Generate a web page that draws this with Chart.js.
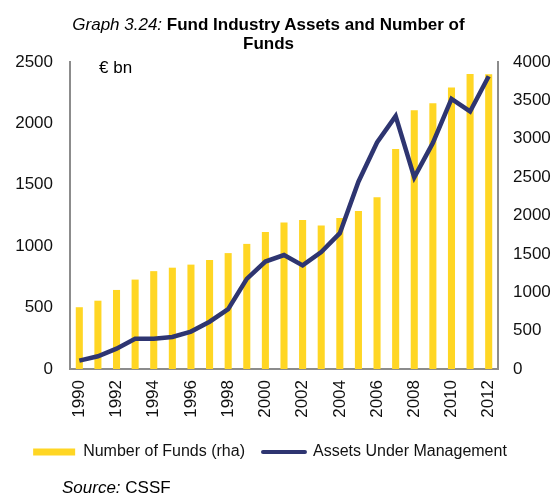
<!DOCTYPE html>
<html>
<head>
<meta charset="utf-8">
<script src="https://cdn.jsdelivr.net/npm/chart.js@4"></script>
<style>
    html, body { margin: 0; padding: 0; background: #fff; }
    #wrap { position: relative; width: 554px; height: 498px; font-family: "Liberation Sans", Arial, sans-serif; color: #000; }
    #chart { position: absolute; left: 0; top: 0; }
    .title { position: absolute; left: 0; top: 15px; width: 537px; text-align: center; font-size: 17px; line-height: 19px; font-weight: bold; }
    .title i { font-weight: normal; }
    .unit { position: absolute; left: 99px; top: 58px; font-size: 17px; }
    .source { position: absolute; left: 62px; top: 478px; font-size: 17px; }
</style>
</head>
<body>
<div id="wrap">
    <canvas id="chart" width="554" height="498"></canvas>
    <div class="title"><i>Graph 3.24:</i> Fund Industry Assets and Number of<br>Funds</div>
    <div class="unit">€ bn</div>
    <div class="source"><i>Source:</i> CSSF</div>
</div>
<script>
const years = ['1990', '1991', '1992', '1993', '1994', '1995', '1996', '1997', '1998', '1999', '2000',
    '2001', '2002', '2003', '2004', '2005', '2006', '2007', '2008', '2009', '2010', '2011', '2012'];
const numberOfFunds = [805, 890, 1030, 1165, 1275, 1320, 1360, 1420, 1510, 1630, 1785,
    1908, 1941, 1870, 1968, 2060, 2238, 2868, 3371, 3463, 3667, 3845, 3841];
const assetsUnderManagement = [68, 104, 166, 247, 247, 261, 305, 385, 487, 734, 875,
    928, 844, 953, 1106, 1525, 1845, 2059, 1560, 1841, 2199, 2097, 2384];
const leftTicks = { max: 2500, step: 500 };
const rightTicks = { max: 4000, step: 500 };

const YELLOW = '#FFD624';
const NAVY = '#2E3571';
const AXIS = '#8c8c8c';
const FONT = { family: '"Liberation Sans", Arial, sans-serif', size: 17 };

// nudge the legend a bit left, like the original
const legendShift = {
    id: 'legendShift',
    afterLayout(chart) {
        if (chart.legend) {
            chart.legend.left -= 7;
            chart.legend.right -= 7;
        }
    },
};

new Chart(document.getElementById('chart'), {
    data: {
        labels: years,
        datasets: [
            {
                type: 'bar',
                label: 'Number of Funds (rha)',
                data: numberOfFunds,
                yAxisID: 'y1',
                backgroundColor: YELLOW,
                categoryPercentage: 1,
                barPercentage: 0.38,
                order: 2,
            },
            {
                type: 'line',
                label: 'Assets Under Management',
                data: assetsUnderManagement,
                yAxisID: 'y',
                borderColor: NAVY,
                backgroundColor: NAVY,
                borderWidth: 4.5,
                pointRadius: 0,
                tension: 0,
                order: 1,
            },
        ],
    },
    options: {
        responsive: false,
        animation: false,
        layout: { padding: { top: 62, bottom: 28, left: 0, right: 0 } },
        plugins: {
            tooltip: { enabled: false },
            legend: {
                position: 'bottom',
                labels: {
                    color: '#111',
                    font: { family: FONT.family, size: 16 },
                    usePointStyle: true,
                    pointStyleWidth: 42,
                    boxHeight: 7,
                    padding: 18,
                    generateLabels(chart) {
                        return chart.data.datasets.map((ds, i) => ({
                            text: ds.label,
                            datasetIndex: i,
                            fillStyle: ds.type === 'bar' ? YELLOW : NAVY,
                            strokeStyle: ds.type === 'bar' ? YELLOW : NAVY,
                            lineWidth: ds.type === 'bar' ? 0 : 4,
                            lineCap: 'round',
                            pointStyle: ds.type === 'bar' ? 'rect' : 'line',
                            fontColor: '#111',
                            hidden: false,
                        }));
                    },
                },
            },
        },
        scales: {
            x: {
                offset: true,
                grid: { display: false, drawTicks: false },
                border: { color: AXIS, width: 2 },
                ticks: {
                    color: '#111',
                    font: FONT,
                    autoSkip: false,
                    minRotation: 90,
                    maxRotation: 90,
                    padding: 11,
                    callback(value, index) {
                        return index % 2 === 0 ? years[index] : '';
                    },
                },
                afterFit(scale) { scale.height = 57; },
            },
            y: {
                position: 'left',
                min: 0,
                max: leftTicks.max,
                grid: { display: false, drawTicks: false },
                border: { color: AXIS, width: 2 },
                ticks: { stepSize: leftTicks.step, color: '#111', font: FONT, padding: 17, callback: (v) => String(v) },
                afterFit(scale) { scale.width = 70; },
            },
            y1: {
                position: 'right',
                min: 0,
                max: rightTicks.max,
                grid: { display: false, drawTicks: false },
                border: { color: AXIS, width: 2 },
                ticks: { stepSize: rightTicks.step, color: '#111', font: FONT, padding: 15, callback: (v) => String(v) },
                afterFit(scale) { scale.width = 56; },
            },
        },
    },
    plugins: [legendShift],
});
</script>
</body>
</html>
